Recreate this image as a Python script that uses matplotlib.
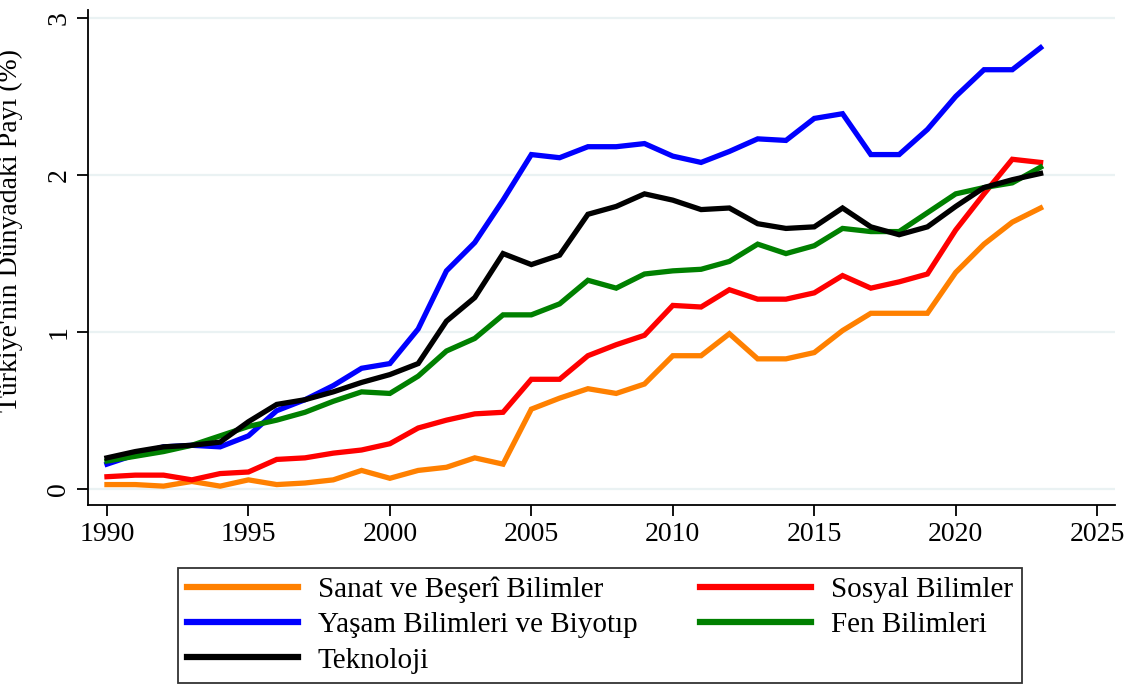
import numpy as np
import matplotlib.pyplot as plt
from matplotlib.lines import Line2D

plt.rcParams['font.family'] = ['Liberation Serif', 'DejaVu Serif']

years = list(range(1990, 2024))

sanat = [0.03, 0.03, 0.02, 0.05, 0.02, 0.06, 0.03, 0.04, 0.06, 0.12,
         0.07, 0.12, 0.14, 0.20, 0.16, 0.51, 0.58, 0.64, 0.61, 0.67,
         0.85, 0.85, 0.99, 0.83, 0.83, 0.87, 1.01, 1.12, 1.12, 1.12,
         1.38, 1.56, 1.70, 1.79]
sosyal = [0.08, 0.09, 0.09, 0.06, 0.10, 0.11, 0.19, 0.20, 0.23, 0.25,
          0.29, 0.39, 0.44, 0.48, 0.49, 0.70, 0.70, 0.85, 0.92, 0.98,
          1.17, 1.16, 1.27, 1.21, 1.21, 1.25, 1.36, 1.28, 1.32, 1.37,
          1.65, 1.88, 2.10, 2.08]
yasam = [0.16, 0.22, 0.27, 0.28, 0.27, 0.34, 0.50, 0.57, 0.66, 0.77,
         0.80, 1.02, 1.39, 1.57, 1.84, 2.13, 2.11, 2.18, 2.18, 2.20,
         2.12, 2.08, 2.15, 2.23, 2.22, 2.36, 2.39, 2.13, 2.13, 2.29,
         2.50, 2.67, 2.67, 2.81]
fen = [0.18, 0.21, 0.24, 0.28, 0.34, 0.40, 0.44, 0.49, 0.56, 0.62,
       0.61, 0.72, 0.88, 0.96, 1.11, 1.11, 1.18, 1.33, 1.28, 1.37,
       1.39, 1.40, 1.45, 1.56, 1.50, 1.55, 1.66, 1.64, 1.64, 1.76,
       1.88, 1.92, 1.95, 2.05]
teknoloji = [0.20, 0.24, 0.27, 0.28, 0.30, 0.43, 0.54, 0.57, 0.62, 0.68,
             0.73, 0.80, 1.07, 1.22, 1.50, 1.43, 1.49, 1.75, 1.80, 1.88,
             1.84, 1.78, 1.79, 1.69, 1.66, 1.67, 1.79, 1.67, 1.62, 1.67,
             1.80, 1.92, 1.97, 2.01]

labels = ["Sanat ve Beşerî Bilimler", "Sosyal Bilimler",
          "Yaşam Bilimleri ve Biyotıp", "Fen Bilimleri", "Teknoloji"]
colors = ["#FF8000", "#FF0000", "#0000FF", "#008000", "#000000"]
series = [sanat, sosyal, yasam, fen, teknoloji]

fig = plt.figure(figsize=(11.31, 6.86), dpi=100)
ax = fig.add_axes([88/1131, 1-505/686, (1115-88)/1131, (505-10)/686])

for y in [0, 1, 2, 3]:
    ax.axhline(y, color="#EAF2F3", lw=1.6, zorder=0)

for s, c in zip(series, colors):
    ax.plot(years, s, color=c, lw=3.8, solid_joinstyle='miter')

ax.set_xlim(1989.33, 2025.63)
ax.set_ylim(-0.1, 3.05)
ax.set_xticks(range(1990, 2026, 5))
ax.set_yticks([0, 1, 2, 3])
for sp in ['top', 'right']:
    ax.spines[sp].set_visible(False)
for sp in ['left', 'bottom']:
    ax.spines[sp].set_linewidth(1.3)
ax.tick_params(direction='out', length=8, width=1.3, labelsize=20, pad=4)
for t in ax.get_yticklabels():
    t.set_rotation(90)
    t.set_va('center')
ax.set_ylabel("Türkiye'nin Dünyadaki Payı (%)", fontsize=20)
ax.yaxis.set_label_coords(-0.063, 0.554)

# legend order so rows read: Sanat/Sosyal, Yaşam/Fen, Teknoloji
order = [0, 2, 4, 1, 3]
handles = [Line2D([], [], color=colors[i], lw=4.5) for i in order]
leg = fig.legend(handles, [labels[i] for i in order], ncol=2,
                 loc='lower left', bbox_to_anchor=(178/1131, 1-683/686),
                 fontsize=21, frameon=True, fancybox=False,
                 handlelength=3.8, columnspacing=2.15, handletextpad=0.68,
                 borderpad=0.32, borderaxespad=0, labelspacing=0.3)
leg.get_frame().set_edgecolor('black')
leg.get_frame().set_linewidth(1.3)

fig.savefig("out.png", dpi=100)
